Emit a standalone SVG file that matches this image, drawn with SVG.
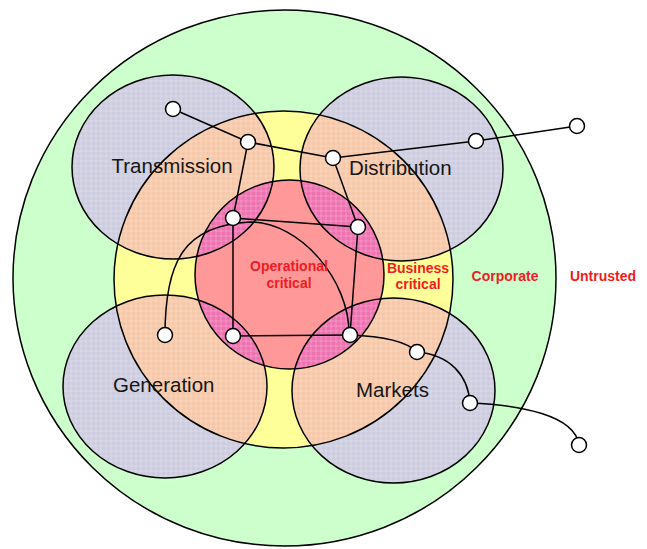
<svg xmlns="http://www.w3.org/2000/svg" xmlns:xlink="http://www.w3.org/1999/xlink" width="647" height="549" viewBox="0 0 647 549">
<style>
.edge{fill:none;stroke:#000;stroke-width:1.5}
.lav{fill:#CDCCE0}
.peach{fill:#F6C8A8}
.mag{fill:#EE72B0}
.wire{fill:none;stroke:#000;stroke-width:1.5}
.node{fill:#fff;stroke:#000;stroke-width:1.5}
.lbl{font-family:"Liberation Sans",Arial,sans-serif;font-size:20.5px;fill:#161616}
.zone{font-family:"Liberation Sans",Arial,sans-serif;font-size:14px;font-weight:bold;fill:#EE1C24;text-anchor:middle}
</style>
<defs>
<ellipse id="gYel" cx="283.5" cy="279.5" rx="169.5" ry="168.5"/>
<circle id="gPink" cx="289.5" cy="274.5" r="94.5"/>
<pattern id="plaid" width="5" height="5" patternUnits="userSpaceOnUse">
<path d="M0 1H5M1 0V5" stroke="#fff" stroke-width="1" stroke-opacity="0.22"/>
</pattern>
<clipPath id="cT"><ellipse cx="173" cy="167" rx="101" ry="92"/></clipPath>
<clipPath id="cD"><ellipse cx="401.5" cy="169" rx="101.5" ry="92"/></clipPath>
<clipPath id="cG"><ellipse cx="165" cy="386.5" rx="102" ry="91.5"/></clipPath>
<clipPath id="cM"><ellipse cx="393.5" cy="390.5" rx="101.5" ry="92.5"/></clipPath>
</defs>
<rect width="647" height="549" fill="#fff"/>
<g id="untrusted-corporate">
<ellipse cx="284.5" cy="278" rx="271.5" ry="268" fill="#CCFFCC" class="edge" style="fill:#CCFFCC"/>
</g>
<g id="business-critical">
<use xlink:href="#gYel" style="fill:#FFFF99"/>
</g>
<g id="operational-critical">
<use xlink:href="#gPink" style="fill:#FF9999"/>
</g>
<g id="transmission">
<g clip-path="url(#cT)">
<rect width="647" height="549" class="lav"/>
<use xlink:href="#gYel" class="peach"/>
<use xlink:href="#gPink" class="mag"/>
<rect width="647" height="549" fill="url(#plaid)"/>
</g>
<ellipse cx="173" cy="167" rx="101" ry="92" class="edge"/>
</g>
<g id="distribution">
<g clip-path="url(#cD)">
<rect width="647" height="549" class="lav"/>
<use xlink:href="#gYel" class="peach"/>
<use xlink:href="#gPink" class="mag"/>
<rect width="647" height="549" fill="url(#plaid)"/>
</g>
<ellipse cx="401.5" cy="169" rx="101.5" ry="92" class="edge"/>
</g>
<g id="generation">
<g clip-path="url(#cG)">
<rect width="647" height="549" class="lav"/>
<use xlink:href="#gYel" class="peach"/>
<use xlink:href="#gPink" class="mag"/>
<rect width="647" height="549" fill="url(#plaid)"/>
</g>
<ellipse cx="165" cy="386.5" rx="102" ry="91.5" class="edge"/>
</g>
<g id="markets">
<g clip-path="url(#cM)">
<rect width="647" height="549" class="lav"/>
<use xlink:href="#gYel" class="peach"/>
<use xlink:href="#gPink" class="mag"/>
<rect width="647" height="549" fill="url(#plaid)"/>
</g>
<ellipse cx="393.5" cy="390.5" rx="101.5" ry="92.5" class="edge"/>
</g>
<g id="zone-edges">
<use xlink:href="#gYel" class="edge"/>
<use xlink:href="#gPink" class="edge"/>
</g>
<g id="connectors">
<path class="wire" d="M173,109 L248,142 L333,158 L476,141 L577,126"/>
<path class="wire" d="M248,142 L233,218"/>
<path class="wire" d="M333,158 L358,227"/>
<path class="wire" d="M233,218 L358,227"/>
<path class="wire" d="M233,218 L233,336"/>
<path class="wire" d="M358,227 L350,335"/>
<path class="wire" d="M233,336 L350,335"/>
<path class="wire" d="M165,335 C165,260 185,225 250,222 C300,222 350,280 349,335"/>
<path class="wire" d="M350,335 C380,336 405,340 417,352"/>
<path class="wire" d="M417,352 C450,355 468,375 470,403"/>
<path class="wire" d="M470,403 C520,405 575,415 579,445"/>
</g>
<g id="n1"><circle class="node" cx="173" cy="109" r="7.5"/></g>
<g id="n2"><circle class="node" cx="248" cy="142" r="7.5"/></g>
<g id="n3"><circle class="node" cx="333" cy="158" r="7.5"/></g>
<g id="n4"><circle class="node" cx="476" cy="141" r="7.5"/></g>
<g id="n5"><circle class="node" cx="577" cy="126" r="7.5"/></g>
<g id="n6"><circle class="node" cx="233" cy="218" r="7.5"/></g>
<g id="n7"><circle class="node" cx="358" cy="227" r="7.5"/></g>
<g id="n8"><circle class="node" cx="165" cy="335" r="7.5"/></g>
<g id="n9"><circle class="node" cx="233" cy="336" r="7.5"/></g>
<g id="n10"><circle class="node" cx="350" cy="335" r="7.5"/></g>
<g id="n11"><circle class="node" cx="417" cy="352" r="7.5"/></g>
<g id="n12"><circle class="node" cx="470" cy="403" r="7.5"/></g>
<g id="n13"><circle class="node" cx="579" cy="445" r="7.5"/></g>
<g id="labels">
<text class="lbl" x="111.5" y="173">Transmission</text>
<text class="lbl" x="349" y="175">Distribution</text>
<text class="lbl" x="113" y="392">Generation</text>
<text class="lbl" x="356" y="397">Markets</text>
<text class="zone" x="289" y="271">Operational</text>
<text class="zone" x="289" y="288">critical</text>
<text class="zone" x="418" y="273">Business</text>
<text class="zone" x="418" y="289">critical</text>
<text class="zone" x="505" y="281">Corporate</text>
<text class="zone" x="603" y="281">Untrusted</text>
</g>
</svg>
